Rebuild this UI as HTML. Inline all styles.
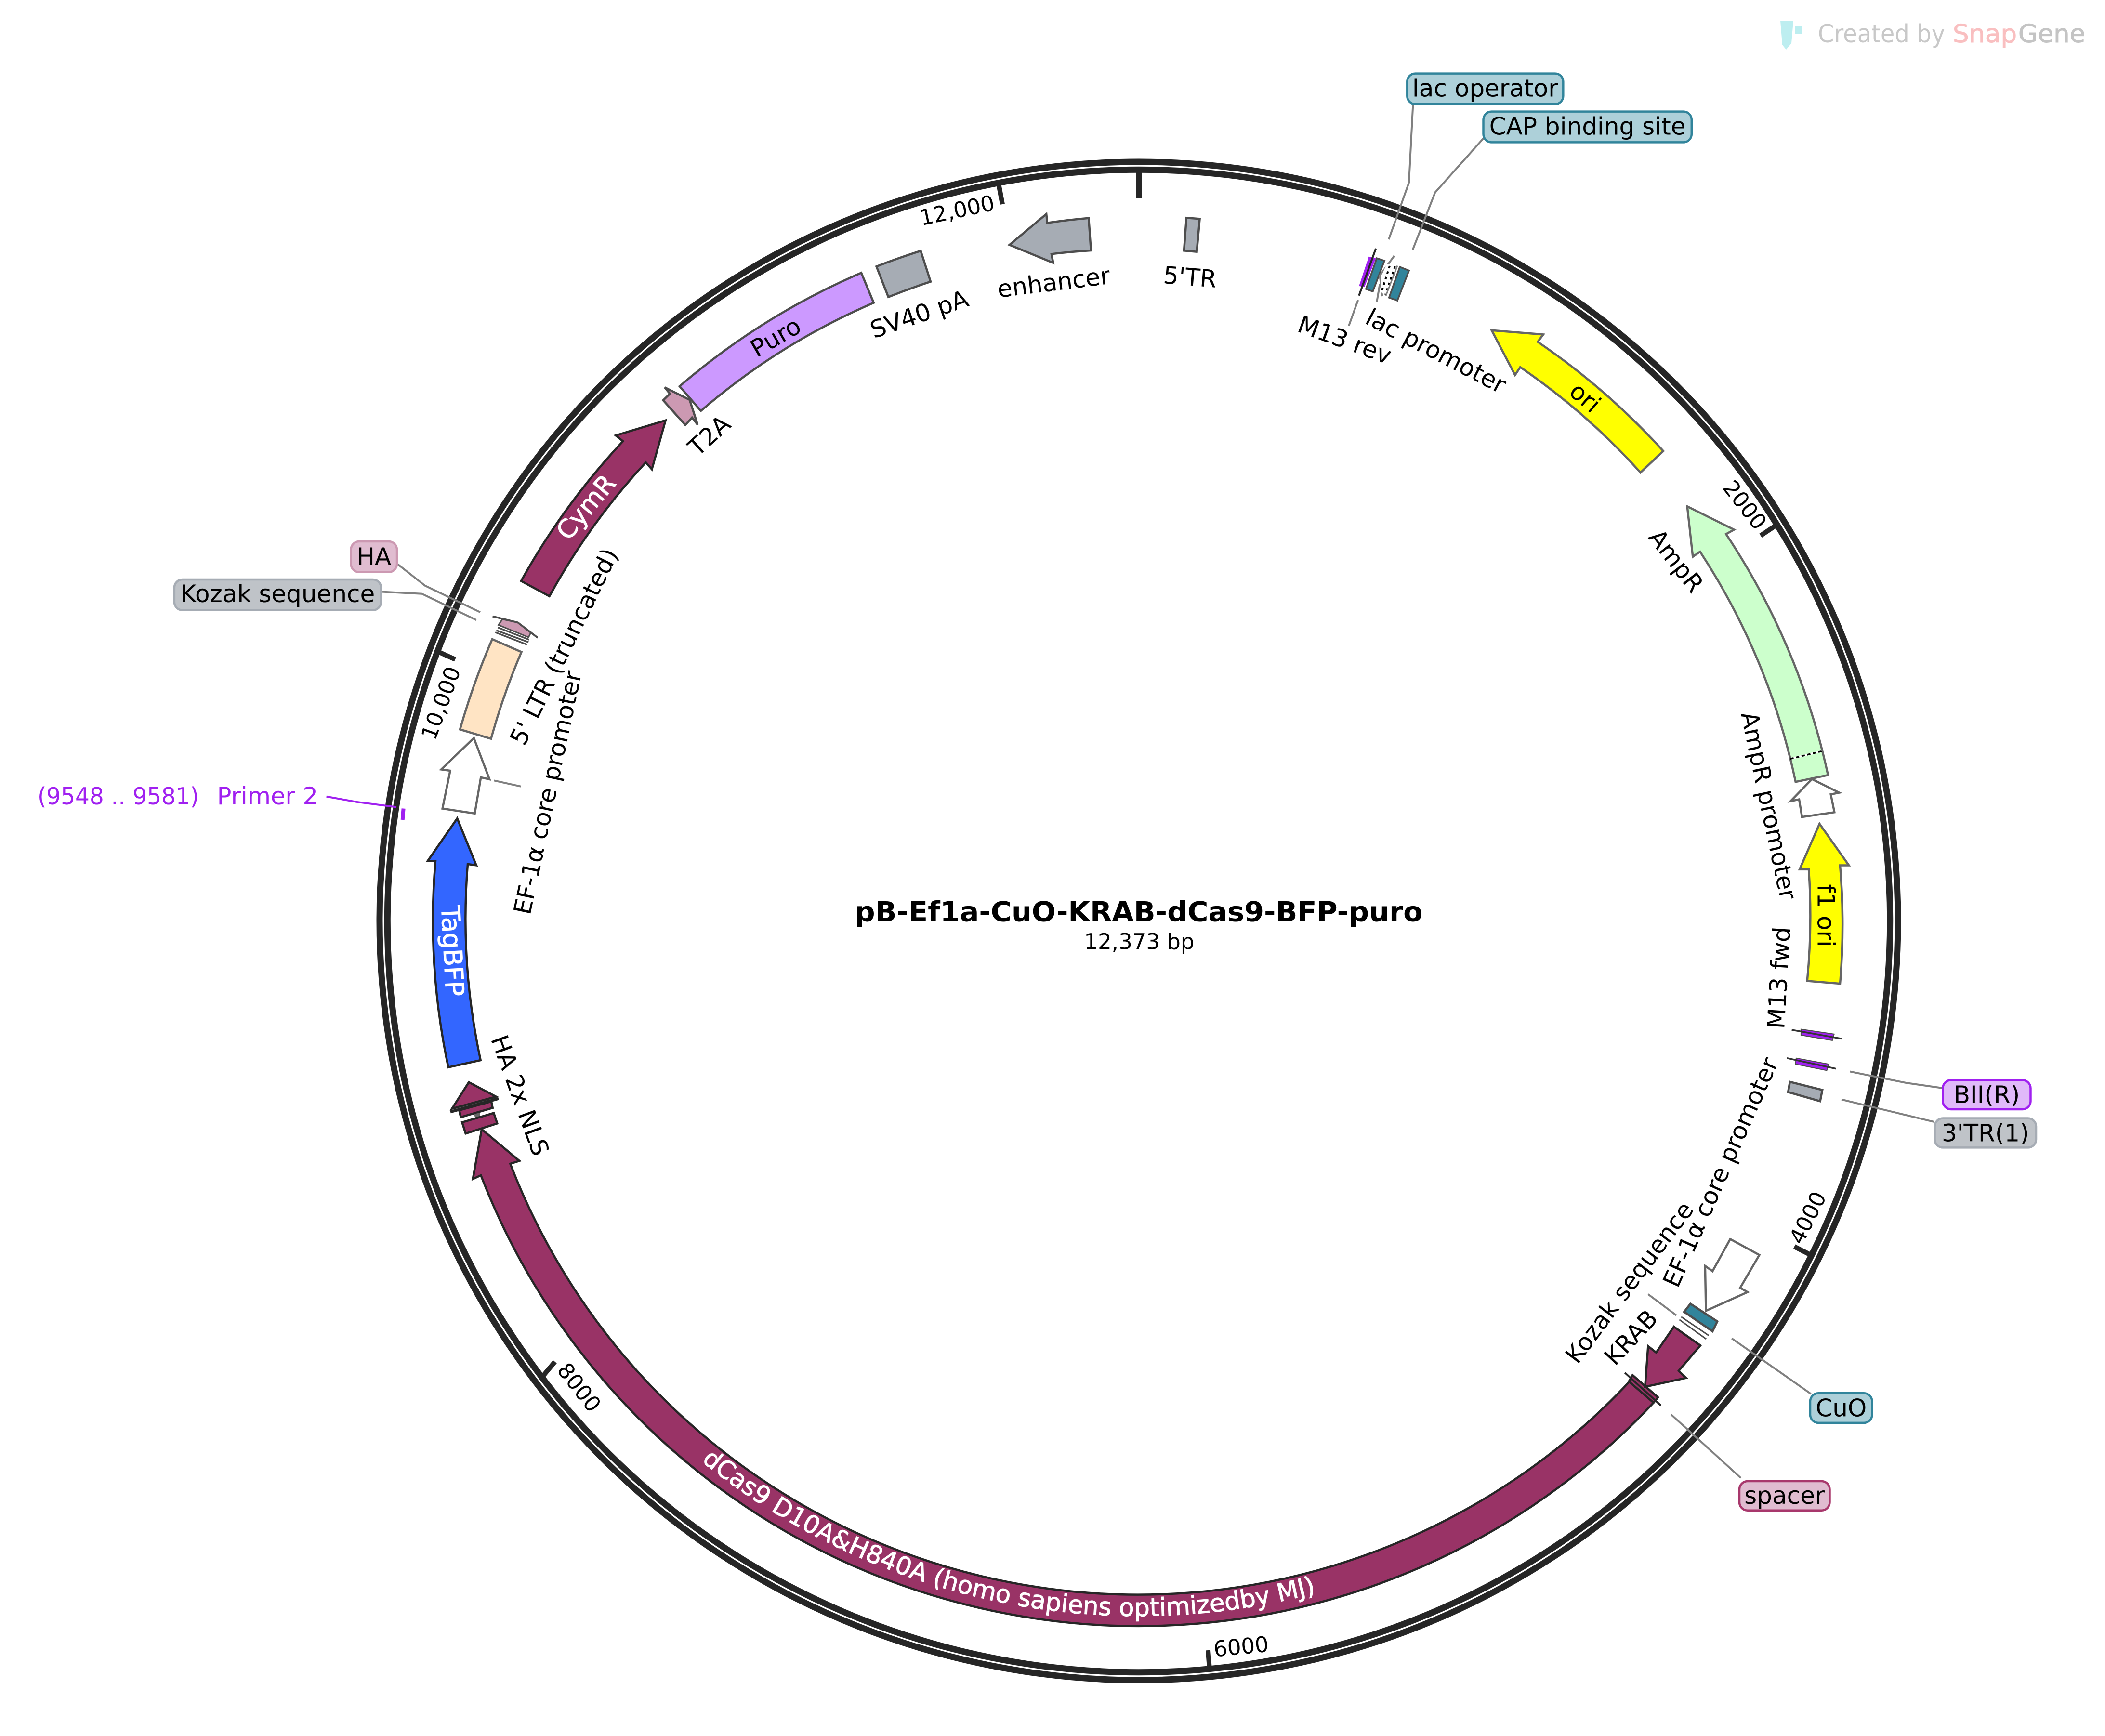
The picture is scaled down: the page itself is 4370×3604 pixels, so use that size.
<!DOCTYPE html>
<html><head><meta charset="utf-8"><title>pB-Ef1a-CuO-KRAB-dCas9-BFP-puro</title>
<style>
html,body{margin:0;padding:0;background:#fff}
svg{display:block}
text{font-family:"DejaVu Sans","Liberation Sans",sans-serif;font-size:50px;fill:#000;white-space:pre}
.c{text-anchor:middle}
.t{font-size:45px;text-anchor:middle}
.w{fill:#fff;text-anchor:middle;font-size:53px;stroke:#fff;stroke-width:1}
.d{fill:#993366;stroke:#262626;stroke-width:4.5;stroke-linejoin:miter}
.g{stroke:#666;stroke-width:4.5}
.n{stroke:#4d4d4d;stroke-width:4.5}
.l{fill:none;stroke:#808080;stroke-width:4}
.k{fill:none;stroke:#4d4d4d;stroke-width:3.5}
</style></head>
<body>
<svg xmlns="http://www.w3.org/2000/svg" width="4370" height="3604" viewBox="0 0 4370 3604">
<rect width="4370" height="3604" fill="#fff"/>

<!-- watermark -->
<polygon points="3696,43 3723,43 3719,90 3708,103 3700,93" fill="#bdeef0"/>
<rect x="3727" y="55" width="13" height="15" fill="#bdeef0"/>
<text x="3774" y="88" textLength="264" lengthAdjust="spacingAndGlyphs" style="font-size:52px;fill:#c8c8c8">Created by</text>
<text x="4054" y="88" textLength="133" lengthAdjust="spacingAndGlyphs" style="font-size:52px;fill:#f9bfc0;stroke:#f9bfc0;stroke-width:1">Snap</text>
<text x="4190" y="88" textLength="139" lengthAdjust="spacingAndGlyphs" style="font-size:52px;fill:#c4c4c4;stroke:#c4c4c4;stroke-width:1">Gene</text>

<!-- backbone -->
<circle cx="2364" cy="1912" r="1576" fill="none" stroke="#262626" stroke-width="13"/>
<circle cx="2364" cy="1912" r="1559.7" fill="none" stroke="#262626" stroke-width="13"/>

<!-- ticks -->
<g stroke="#262626" fill="none">
<line x1="2364.7" y1="356" x2="2364.7" y2="412" stroke-width="12"/>
<line x1="3685" y1="1092" x2="3655" y2="1112" stroke-width="10"/>
<line x1="3756.5" y1="2604" x2="3725" y2="2588" stroke-width="10"/>
<line x1="2511" y1="3466" x2="2508" y2="3426" stroke-width="10"/>
<line x1="1127" y1="2857" x2="1152" y2="2827" stroke-width="10"/>
<line x1="912" y1="1354" x2="945" y2="1369" stroke-width="10"/>
<line x1="2073" y1="381" x2="2081" y2="424" stroke-width="10"/>
</g>
<text class="t" transform="translate(3610,1058) rotate(52)">2000</text>
<text class="t" transform="translate(3767,2535) rotate(-63.6)">4000</text>
<text class="t" transform="translate(2578,3434) rotate(-5.5)">6000</text>
<text class="t" transform="translate(1190,2890) rotate(52)">8000</text>
<text class="t" transform="translate(930,1465) rotate(-70)">10,000</text>
<text class="t" transform="translate(1990,452) rotate(-12)">12,000</text>

<!-- leader lines -->
<polyline class="l" points="2933.4,216 2925,379 2883,497"/>
<polyline class="l" points="3080.7,286 2979.3,399.5 2932.8,518.4"/>
<polyline class="l" points="2819.3,623 2800.1,676.5"/>
<polyline class="l" points="824,1170 882.3,1215.8 997,1271"/>
<polyline class="l" points="794,1228.6 875.9,1232.7 988.8,1287.2"/>
<polyline class="l" points="1025.8,1620.4 1081.2,1632.7"/>
<polyline class="l" points="3840.6,2224.6 3957,2248 4033.4,2259"/>
<polyline class="l" points="3823,2282.6 4014.3,2328.8"/>
<polyline class="l" points="3421.4,2686.8 3480.3,2730.8"/>
<polyline class="l" points="3595,2778.5 3696.8,2849.7 3759.5,2893.7"/>
<polyline class="l" points="3468.8,2936.3 3527,2989 3614,3068.3"/>
<polyline points="677.6,1653.6 740,1664.8 823,1675.5" fill="none" stroke="#a020f0" stroke-width="4"/>
<line x1="837.6" y1="1678.6" x2="835.7" y2="1702" stroke="#a020f0" stroke-width="8"/>

<!-- enhancer -->
<path class="n" fill="#a6acb4" d="M2260.2 452.7 A1463 1463 0 0 0 2174.1 462.7 L2172.2 444.3 L2095.7 508.3 L2186.4 545.7 L2182.9 527.3 A1395 1395 0 0 1 2264.8 520 Z"/>
<!-- 5'TR -->
<path class="n" fill="#a6acb4" d="M2463 452.3 L2490.6 454.3 L2484.5 522.7 L2458 520.3 Z"/>
<!-- SV40 pA -->
<path class="n" fill="#a6acb4" d="M1819.5 553.2 A1463 1463 0 0 1 1911.4 520.8 L1932 584.7 A1395 1395 0 0 0 1844.2 616.6 Z"/>
<!-- Puro -->
<path class="n" fill="#cc99ff" d="M1788 566.4 L1813.8 628.6 A1395 1395 0 0 0 1455 852.9 L1410.8 801.9 A1463 1463 0 0 1 1788 566.4 Z"/>
<!-- T2A -->
<polygon class="n" fill="#cc99b2" points="1376.7,831 1390.7,817.3 1380,804.3 1431.7,830 1448.3,881.7 1436.7,866.7 1422.7,882.3"/>
<!-- CymR -->
<path class="d" d="M1081.9 1206.1 A1463 1463 0 0 1 1293.3 916 L1278.3 904 L1381.7 872.7 L1353.3 974.3 L1340.7 960 A1396 1396 0 0 0 1140.6 1237.8 Z"/>
<!-- HA (left) -->
<polygon fill="#cc99b2" stroke="#4d4d4d" stroke-width="3" points="1034.7,1297.4 1043,1285.7 1074.9,1292.3 1102.3,1312.8 1097.2,1323"/>
<polyline points="1022.6,1279.6 1074.9,1292.3 1116.3,1324" fill="none" stroke="#4d4d4d" stroke-width="4"/>
<g stroke="#4d4d4d" stroke-width="3.5">
<line x1="1033.4" y1="1302.6" x2="1098.5" y2="1328"/>
<line x1="1030.3" y1="1308.7" x2="1097.2" y2="1333.2"/>
<line x1="1028.3" y1="1312.8" x2="1094" y2="1338.3"/>
</g>
<!-- 5' LTR -->
<path class="g" fill="#ffe4c4" d="M1021.9 1327 L1082.5 1353.6 A1398 1398 0 0 0 1019.4 1533.7 L955 1514.3 A1464 1464 0 0 1 1021.9 1327 Z"/>
<!-- EF-1a left -->
<polygon class="g" fill="#fff" points="983.7,1532.1 916,1597.4 934.6,1600 918.6,1678.6 985.6,1688.8 998.3,1613.8 1016.2,1617.9"/>
<!-- TagBFP -->
<path class="d" style="fill:#3366ff" d="M930.7 2215.7 A1465 1465 0 0 1 904 1787.2 L888 1787.2 L949.2 1699 L988.8 1796.4 L971 1793.9 A1396 1396 0 0 0 997.7 2201 Z"/>
<!-- HA / NLS -->
<polygon class="d" points="973.3,2246.7 1030,2276.7 938.3,2301.7"/>
<line x1="935" y1="2308.3" x2="1035" y2="2280.7" stroke="#262626" stroke-width="6"/>
<polygon class="d" points="953.3,2305 1020,2286.7 1022.7,2300 956.7,2319.3"/>
<polygon fill="#666" points="984,2313 996,2310 997,2320 987,2323"/>
<polygon class="d" points="959.3,2330 1025,2310.7 1032.3,2332.3 966.7,2353.3"/>
<!-- dCas9 -->
<path class="d" d="M3432.8 2912 A1464 1464 0 0 1 998.3 2440 L981.7 2447.7 L1000 2344.3 L1078.3 2410 L1059.3 2416 A1397 1397 0 0 0 3383 2868 Z"/>
<!-- spacer -->
<polygon class="d" points="3389.2,2854.8 3442,2901 3432.8,2912 3381.6,2868"/>
<line x1="3373.1" y1="2849.7" x2="3448.1" y2="2918" stroke="#262626" stroke-width="4"/>
<!-- KRAB -->
<polygon class="d" points="3474.9,2754.3 3530,2793.2 3484.9,2846 3500.2,2860.7 3415.2,2879 3421.4,2794.7 3438.2,2807.9"/>
<!-- Kozak right -->
<g stroke="#4d4d4d" stroke-width="3">
<line x1="3490.2" y1="2733.8" x2="3547.6" y2="2772.7"/>
<line x1="3486.4" y1="2739.7" x2="3542.2" y2="2780"/>
</g>
<!-- CuO -->
<polygon class="n" fill="#31849b" points="3509.3,2706.6 3565.2,2743.3 3555.2,2763.9 3496.3,2723.5"/>
<!-- EF-1a right -->
<polygon class="g" fill="#fff" points="3592,2572.4 3652.4,2605.4 3612.6,2673.6 3627.9,2682.4 3541.5,2721.3 3539.9,2628.1 3555.2,2639.1"/>
<!-- 3'TR(1) -->
<polygon class="n" fill="#a6acb4" points="3715.9,2245.9 3783.2,2262.8 3778.6,2286.2 3712.1,2267.2"/>
<!-- BII -->
<polygon fill="#a020f0" stroke="#4d4d4d" stroke-width="2" points="3728.9,2196.7 3796.3,2209.2 3792.4,2222.4 3727.4,2209.2"/>
<line x1="3709.8" y1="2196.7" x2="3811.6" y2="2218.7" stroke="#333" stroke-width="3.5"/>
<!-- M13 fwd -->
<polygon fill="#a020f0" stroke="#4d4d4d" stroke-width="2" points="3738.9,2136.6 3807.7,2146.8 3803.9,2160 3738.9,2149"/>
<line x1="3719.7" y1="2138" x2="3823" y2="2156.4" stroke="#333" stroke-width="3.5"/>
<!-- f1 ori -->
<path class="g" fill="#ffff00" d="M3820 2042.1 A1461 1461 0 0 0 3820 1796.5 L3838.3 1796.5 L3777.3 1710.2 L3736 1804.9 L3755 1804.9 A1393 1393 0 0 1 3751.7 2036.5 Z"/>
<!-- AmpR promoter -->
<polygon class="g" fill="#fff" points="3761.7,1617.5 3818.3,1645.6 3800.7,1649.1 3808.3,1686.3 3741,1696.1 3735,1659.6 3717.3,1663.2"/>
<!-- AmpR -->
<path class="g" fill="#ccffcc" d="M3795 1609.1 A1463 1463 0 0 0 3583.3 1108.8 L3600 1099.6 L3502.7 1051.2 L3514.3 1155.8 L3529.3 1145.3 A1396 1396 0 0 1 3727.7 1623.2 Z"/>
<line x1="3716.7" y1="1575.4" x2="3782.7" y2="1559.3" stroke="#fff" stroke-width="4"/>
<line x1="3716.7" y1="1575.4" x2="3782.7" y2="1559.3" stroke="#000" stroke-width="3.5" stroke-dasharray="7 5"/>
<!-- ori -->
<path class="g" fill="#ffff00" d="M3453 936.4 A1463 1463 0 0 0 3192.3 709.7 L3203.8 694.4 L3096.7 685.7 L3145.2 778.6 L3156 762.2 A1396 1396 0 0 1 3405.7 981 Z"/>
<!-- lac cluster -->
<polygon fill="#a020f0" points="2841.6,532.7 2856.3,536.2 2832.7,595.9 2821.2,593.9"/>
<line x1="2856.3" y1="515.8" x2="2821.2" y2="613.8" stroke="#262626" stroke-width="4"/>
<polygon stroke="#4d4d4d" stroke-width="3.5" fill="#31849b" points="2858.2,536.2 2874.1,541.3 2849.9,605.1 2835.8,600"/>
<polyline points="2894.5,531.1 2864.5,572 2870,615" fill="none" stroke="#808080" stroke-width="4"/>
<line x1="2864.5" y1="590" x2="2858.2" y2="627" stroke="#808080" stroke-width="4"/>
<polygon fill="#fff" points="2878.6,548 2899,551.6 2875.4,614 2866,605 2866,577"/>
<line x1="2885" y1="552" x2="2868" y2="606" stroke="#000" stroke-width="4" stroke-dasharray="5 7"/>
<line x1="2896" y1="553" x2="2876" y2="612" stroke="#000" stroke-width="4" stroke-dasharray="5 7"/>
<line x1="2901" y1="551.6" x2="2877" y2="614" stroke="#808080" stroke-width="3"/>
<polygon stroke="#4d4d4d" stroke-width="3.5" fill="#31849b" points="2906,554.1 2925.1,561.7 2900.9,624 2883.7,617.9"/>

<!-- feature labels -->
<text class="c" transform="translate(2189.5,603.3) rotate(-7.1)">enhancer</text>
<text class="c" transform="translate(2469,592.5) rotate(4.6)">5'TR</text>
<text class="c" transform="translate(1914,668.6) rotate(-19)">SV40 pA</text>
<text class="c" transform="translate(1484,917) rotate(-42)">T2A</text>
<text class="c" transform="translate(1619,715) rotate(-30.3)">Puro</text>
<text class="w" transform="translate(1230.5,1064.6) rotate(-50)">CymR</text>
<text class="c" transform="translate(3773.3,1900.7) rotate(90)">f1 ori</text>
<text class="c" transform="translate(3466,1175) rotate(52)">AmpR</text>
<text class="c" transform="translate(3655,1676) rotate(78)">AmpR promoter</text>
<text class="c" transform="translate(3710.5,2031) rotate(-86.5)">M13 fwd</text>
<text class="c" transform="translate(3587.7,2440.6) rotate(-66)">EF-1α core promoter</text>
<text class="c" transform="translate(3396.4,2672.8) rotate(-53)">Kozak sequence</text>
<text class="c" transform="translate(3398.4,2788.5) rotate(-47)">KRAB</text>
<text class="c" transform="translate(1186.4,1350) rotate(-64)">5' LTR (truncated)</text>
<text class="c" transform="translate(1154,1649) rotate(-78)">EF-1α core promoter</text>
<text class="c" transform="translate(1063,2280) rotate(70)">HA 2x NLS</text>
<text class="c" transform="translate(2973,744) rotate(27.5)">lac promoter</text>
<text class="c" transform="translate(2785.7,722) rotate(20)">M13 rev</text>
<text class="c" transform="translate(3288,828.6) rotate(40.6)" dy="13">ori</text>
<text class="w" transform="translate(921,1975) rotate(87)">TagBFP</text>
<path id="dc" d="M1396.6 2982.7 A1443 1443 0 0 0 2807.6 3285.2" fill="none"/>
<text class="w" style="font-size:51.5px"><textPath href="#dc" startOffset="50%">dCas9 D10A&amp;H840A (homo sapiens optimizedby MJ)</textPath></text>

<text x="78" y="1670" textLength="335" lengthAdjust="spacingAndGlyphs" style="fill:#a020f0;font-size:49px">(9548 .. 9581)</text>
<text x="660" y="1670" text-anchor="end" style="fill:#a020f0;font-size:49.5px">Primer 2</text>

<!-- boxed labels -->
<g stroke-width="4.5">
<rect x="2921.3" y="152.6" width="324" height="63.7" rx="17" fill="#add0d9" stroke="#31849b"/>
<rect x="3079.5" y="231.6" width="432.3" height="63.8" rx="17" fill="#add0d9" stroke="#31849b"/>
<rect x="728.6" y="1124" width="95.4" height="63.8" rx="17" fill="#e0bcd0" stroke="#cc99b2"/>
<rect x="361.9" y="1203" width="429.1" height="63.8" rx="17" fill="#bfc3c8" stroke="#a6acb4"/>
<rect x="4033.4" y="2242.2" width="182.1" height="60.8" rx="17" fill="#e0b9f9" stroke="#a020f0"/>
<rect x="4016.6" y="2321.5" width="210.4" height="60.9" rx="17" fill="#bfc3c8" stroke="#a6acb4"/>
<rect x="3758" y="2892.3" width="128.5" height="61.6" rx="17" fill="#add0d9" stroke="#31849b"/>
<rect x="3611" y="3075" width="187.5" height="60.8" rx="17" fill="#e0bcd0" stroke="#a8386c"/>
</g>
<g text-anchor="middle">
<text x="3083.3" y="200.5">lac operator</text>
<text x="3295.6" y="279.5">CAP binding site</text>
<text x="776.3" y="1173">HA</text>
<text x="576.5" y="1250">Kozak sequence</text>
<text x="4124.5" y="2290">BII(R)</text>
<text x="4121.8" y="2369.5">3'TR(1)</text>
<text x="3822.3" y="2940.5">CuO</text>
<text x="3704.8" y="3122">spacer</text>
</g>

<!-- center -->
<text x="2364" y="1912.7" text-anchor="middle" textLength="1179" lengthAdjust="spacingAndGlyphs" style="font-weight:bold;font-size:57px">pB-Ef1a-CuO-KRAB-dCas9-BFP-puro</text>
<text x="2365" y="1970.7" text-anchor="middle" style="font-size:45px">12,373 bp</text>
</svg>
</body></html>
